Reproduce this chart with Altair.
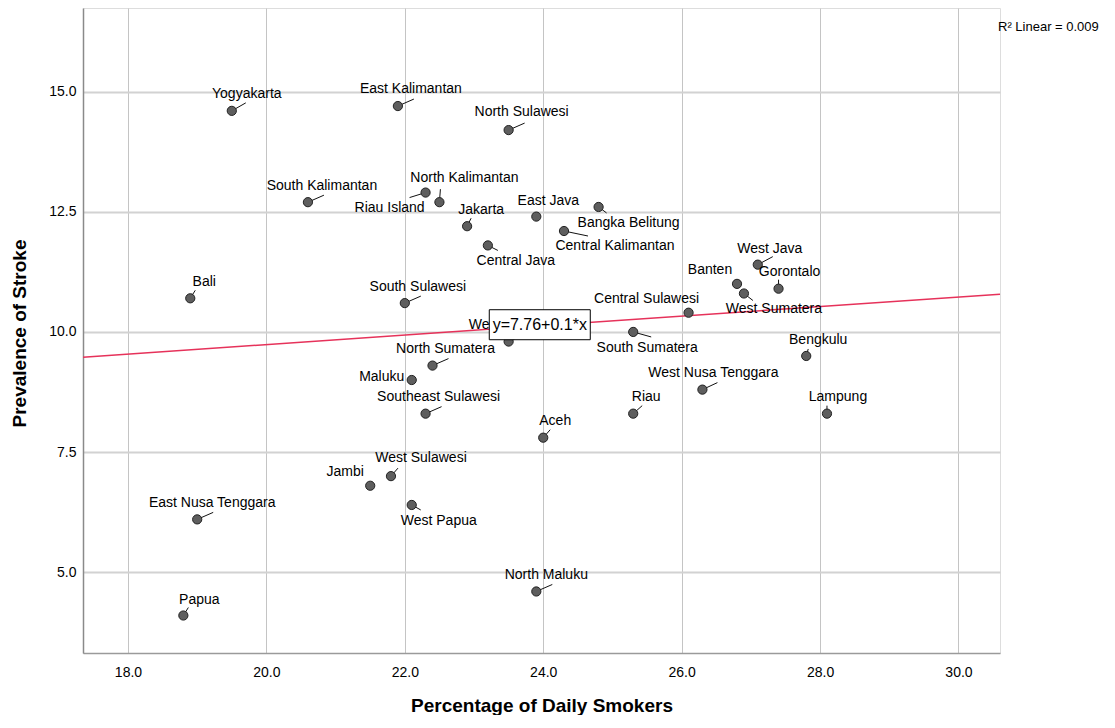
import altair as alt
import pandas as pd

# ---- data ----
provinces = ["Yogyakarta", "East Kalimantan", "North Sulawesi", "South Kalimantan",
             "Riau Island", "North Kalimantan", "Jakarta", "East Java", "Bangka Belitung",
             "Central Kalimantan", "Central Java", "West Java", "Banten", "West Sumatera",
             "Gorontalo", "Bali", "South Sulawesi", "Central Sulawesi", "South Sumatera",
             "West Kalimantan", "Bengkulu", "North Sumatera", "Maluku", "West Nusa Tenggara",
             "Southeast Sulawesi", "Riau", "Lampung", "Aceh", "West Sulawesi", "Jambi",
             "West Papua", "East Nusa Tenggara", "North Maluku", "Papua"]
smokers = [19.5, 21.9, 23.5, 20.6, 22.3, 22.5, 22.9, 23.9, 24.8, 24.3, 23.2, 27.1, 26.8,
           26.9, 27.4, 18.9, 22.0, 26.1, 25.3, 23.5, 27.8, 22.4, 22.1, 26.3, 22.3, 25.3,
           28.1, 24.0, 21.8, 21.5, 22.1, 19.0, 23.9, 18.8]
stroke = [14.6, 14.7, 14.2, 12.7, 12.9, 12.7, 12.2, 12.4, 12.6, 12.1, 11.8, 11.4, 11.0,
          10.8, 10.9, 10.7, 10.6, 10.4, 10.0, 9.8, 9.5, 9.3, 9.0, 8.8, 8.3, 8.3, 8.3, 7.8,
          7.0, 6.8, 6.4, 6.1, 4.6, 4.1]

x_ticks = [18, 20, 22, 24, 26, 28, 30]
y_ticks = [5.0, 7.5, 10.0, 12.5, 15.0]
equation_text = ["y=7.76+0.1*x"]
r2_text = ["R\u00b2 Linear = 0.009"]

# ---- label layout (pixel offsets of label centre and leader-line end from each dot) ----
label_dx = [15, 13, 13, 14, -36, 25, 14, 12, 30, 51, 28, 12, -27, 30, 11, 14, 13, -42, 14,
            13, 12, 13, -30, 11, 13, 13, 11, 12, 30, -25, 27, 15, 10, 16]
label_dy = [-17, -17, -18, -16, 15, -24, -16, -16, 16, 15, 16, -16, -14, 16, -17, -16, -16,
            -14, 16, -17, -16, -17, -3, -17, -17, -17, -17, -17, -18, -14, 16, -16, -16, -16]
leader_end = [(14, -8), (16, -7), (16, -7), (16, -7), (-16, 5), (1, -13), (4, -8), None,
              (8, 6), (24, 5), (10, 5), (15, -8), None, (9, 7), (0, -9), (5, -8), (16, -7),
              None, (18, 5), (16, -7), (2, -7), (16, -7), None, (15, -7), (16, -7), (9, -8),
              (0, -8), (7, -8), (7, -8), None, (9, 5), (16, -7), (16, -7), (5, -8)]

X_DOMAIN = [17.35, 30.6]
Y_DOMAIN = [3.32, 16.74]
W, H = 917, 645
X_PER_PX = (X_DOMAIN[1] - X_DOMAIN[0]) / W
Y_PER_PX = (Y_DOMAIN[1] - Y_DOMAIN[0]) / H
FONT = "Liberation Sans"

df = pd.DataFrame({
    "province": provinces,
    "smokers": smokers,
    "stroke": stroke,
    "ldx": label_dx,
    "ldy": label_dy,
    "leader": ["" if e is None else f"M0,0L{e[0]},{e[1]}" for e in leader_end],
})

x_enc = alt.X("smokers:Q",
              scale=alt.Scale(domain=X_DOMAIN, nice=False, zero=False),
              axis=alt.Axis(values=x_ticks, format=".1f", title="Percentage of Daily Smokers",
                            grid=True, gridColor="#c4c4c4", gridWidth=1,
                            ticks=False, tickSize=0, labelPadding=12,
                            labelFontSize=14, labelColor="#000", labelFont=FONT,
                            domainColor="#9a9a9a", domainWidth=1.5,
                            titleFontSize=19, titleFontWeight="bold", titleFont=FONT,
                            titleColor="#000", titleY=52, titleBaseline="middle"))
y_enc = alt.Y("stroke:Q",
              scale=alt.Scale(domain=Y_DOMAIN, nice=False, zero=False),
              axis=alt.Axis(values=y_ticks, format=".1f", title="Prevalence of Stroke",
                            grid=True, gridColor="#d2d2d2", gridWidth=2,
                            ticks=False, tickSize=0, labelPadding=7,
                            labelFontSize=14, labelColor="#000", labelFont=FONT,
                            domainColor="#8a8a8a", domainWidth=1.5,
                            titleFontSize=19, titleFontWeight="bold", titleFont=FONT,
                            titleColor="#000", titleX=-64, titleY=325, titleAngle=-90,
                            titleAlign="center", titleBaseline="middle"))

base = alt.Chart(df)

fit_line = base.transform_regression(
    "smokers", "stroke", extent=X_DOMAIN
).mark_line(color="#e6325a", strokeWidth=1.5).encode(x=x_enc, y=y_enc)

leaders = base.transform_filter(alt.datum.leader != "").mark_point(
    filled=False, stroke="#111", strokeWidth=1, size=4, opacity=1
).encode(
    x="smokers:Q", y="stroke:Q",
    shape=alt.Shape("leader:N", scale=None, legend=None),
)

dots = base.mark_point(
    filled=True, fill="#5e5e5e", stroke="#222", strokeWidth=1, size=85, opacity=1,
    shape="circle"
).encode(x="smokers:Q", y="stroke:Q")

labels = base.transform_calculate(
    lx=f"datum.smokers + datum.ldx * {X_PER_PX}",
    ly=f"datum.stroke - datum.ldy * {Y_PER_PX}",
).mark_text(
    fontSize=14, font=FONT, color="#000", align="center", baseline="middle"
).encode(
    x="lx:Q", y="ly:Q",
    text="province:N",
)

eq_df = pd.DataFrame({"ex": [23.95], "ey": [10.15], "txt": equation_text})
eq_box = alt.Chart(eq_df).mark_point(
    shape="M-50.5,-15H50.5V15H-50.5Z", size=4, filled=True, fill="white",
    stroke="#000", strokeWidth=1, opacity=1
).encode(x="ex:Q", y="ey:Q")
eq_label = alt.Chart(eq_df).mark_text(
    fontSize=16, font=FONT, color="#000", align="center", baseline="middle"
).encode(x="ex:Q", y="ey:Q", text="txt:N")

r2_df = pd.DataFrame({"txt": r2_text})
r2_label = alt.Chart(r2_df).mark_text(
    fontSize=13, font=FONT, color="#000", align="left", baseline="middle"
).encode(x=alt.value(915), y=alt.value(19), text="txt:N")

chart = alt.layer(
    fit_line, leaders, dots, labels, eq_box, eq_label, r2_label
).properties(
    width=W, height=H,
    autosize=alt.AutoSizeParams(type="none"),
    padding={"left": 75, "top": 0, "right": 107, "bottom": 62},
).configure_view(stroke=None).configure(font=FONT, background="white")

chart.save("out.html", embed_options={"renderer": "svg", "actions": False})
